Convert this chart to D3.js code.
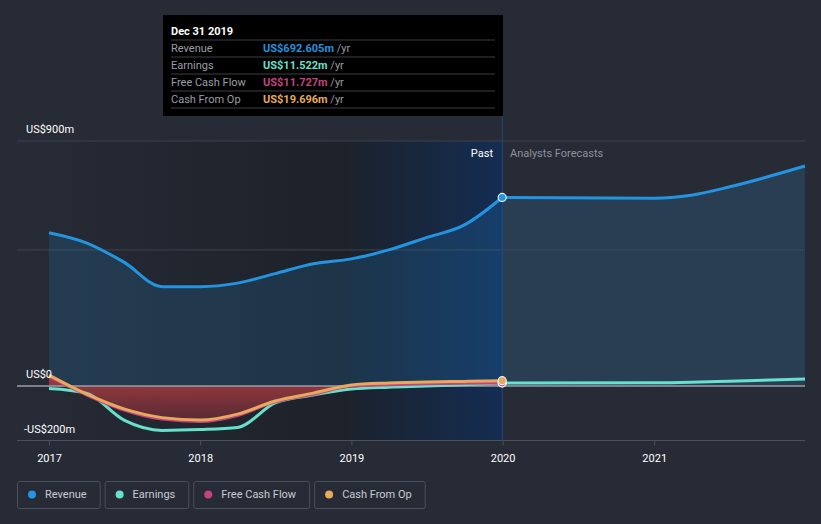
<!DOCTYPE html>
<html>
<head>
<meta charset="utf-8">
<script src="https://cdn.jsdelivr.net/npm/d3@7"></script>
<style>
  body { margin: 0; background: #262b36; }
  svg { display: block; font-family: Roboto, "Open Sans", sans-serif; }
</style>
</head>
<body>
<svg width="821" height="524"></svg>
<script>
'use strict';
// data, US$ millions
const pastDates = ['2017-01-01','2017-04-01','2017-07-01','2017-10-01','2018-01-01','2018-04-01',
  '2018-07-01','2018-10-01','2019-01-01','2019-04-01','2019-07-01','2019-10-01','2019-12-31'];
const revenue = [563, 526, 455, 365, 365, 378, 413, 449, 467, 500, 545, 592, 692.605];
const earnings = [-9, -26, -125, -163, -160, -152, -62, -33, -11, -4, 0, 5, 11.522];
const freeCashFlow = [35, -32, -88, -121, -130, -108, -58, -30, 0, 5, 8, 10, 11.727];
const cashFromOp = [40, -29, -84, -116, -125, -103, -55, -26, 4, 11, 15, 17, 19.696];

const fcDates = ['2019-12-31','2020-12-31','2021-03-31','2021-06-30','2021-12-31'];
const revenueFc = [692.605, 690, 701, 731, 808];
const earningsFc = [11.522, 12, 14, 18, 26];

const yearTicks = ['2017','2018','2019','2020','2021'];
const yTickLabels = [{v: 900, t: 'US$900m'}, {v: 0, t: 'US$0'}, {v: -200, t: '-US$200m'}];
const gridValues = [900, 500];

const legendItems = [
  {name: 'Revenue', color: '#2394df'},
  {name: 'Earnings', color: '#67e0cc'},
  {name: 'Free Cash Flow', color: '#c2437f'},
  {name: 'Cash From Op', color: '#e8a95b'}
];
const tipRows = [
  {label: 'Revenue', value: 'US$692.605m', color: '#2394df'},
  {label: 'Earnings', value: 'US$11.522m', color: '#67e0cc'},
  {label: 'Free Cash Flow', value: 'US$11.727m', color: '#c2437f'},
  {label: 'Cash From Op', value: 'US$19.696m', color: '#e8a95b'}
];

const svg = d3.select('svg');
const parse = d3.timeParse('%Y-%m-%d');
const left = 17, right = 805;

const x = d3.scaleTime()
  .domain([parse('2017-01-01'), parse('2021-12-31')])
  .range([49, 805]);
const y = d3.scaleLinear().domain([-200, 900]).range([440.5, 141]);

const past = pastDates.map(parse);
const fc = fcDates.map(parse);
const pastStart = parse('2019-01-01'), nowDate = parse('2019-12-31');

const defs = svg.append('defs');
const lg1 = defs.append('linearGradient').attr('id', 'pre').attr('x1', 0).attr('x2', 1);
lg1.append('stop').attr('offset', 0).attr('stop-color', '#262b36');
lg1.append('stop').attr('offset', 1).attr('stop-color', '#1d2129');
const lg2 = defs.append('linearGradient').attr('id', 'past').attr('x1', 0).attr('x2', 1);
lg2.append('stop').attr('offset', 0).attr('stop-color', '#1b222d');
lg2.append('stop').attr('offset', 1).attr('stop-color', '#142d52');
const lg3 = defs.append('linearGradient').attr('id', 'red').attr('x1', 0).attr('x2', 0).attr('y1', 0).attr('y2', 1);
lg3.append('stop').attr('offset', 0).attr('stop-color', '#a83c42');
lg3.append('stop').attr('offset', 1).attr('stop-color', '#5b2a33');

// background bands
svg.append('rect').attr('x', left).attr('y', y(900)).attr('width', x(pastStart) - left)
  .attr('height', y(-200) - y(900)).attr('fill', 'url(#pre)');
svg.append('rect').attr('x', x(pastStart)).attr('y', y(900)).attr('width', x(nowDate) - x(pastStart))
  .attr('height', y(-200) - y(900)).attr('fill', 'url(#past)');

// grid
svg.selectAll('.grid').data(gridValues).join('line')
  .attr('x1', left).attr('x2', right).attr('y1', d => y(d)).attr('y2', d => y(d))
  .attr('stroke', '#3d434f').attr('stroke-width', 1);
svg.append('line').attr('x1', left).attr('x2', right).attr('y1', y(-200)).attr('y2', y(-200))
  .attr('stroke', '#4a505c');

const curve = d3.curveMonotoneX;
const area = vals => d3.area().curve(curve).x((d, i) => x(d)).y0(y(0)).y1((d, i) => y(vals[i]));
const line = vals => d3.line().curve(curve).x(d => x(d)).y((d, i) => y(vals[i]));

// revenue areas
svg.append('path').attr('d', area(revenue)(past)).attr('fill', '#2394df').attr('opacity', 0.17);
svg.append('path').attr('d', area(revenueFc)(fc)).attr('fill', '#2e5678').attr('opacity', 0.45);
// free cash flow area
svg.append('path').attr('d', area(freeCashFlow)(past)).attr('fill', 'url(#red)').attr('opacity', 0.92);

// zero line
svg.append('line').attr('x1', left).attr('x2', right).attr('y1', y(0)).attr('y2', y(0))
  .attr('stroke', '#9a9ea6').attr('stroke-width', 1.5);

// now marker line
svg.append('line').attr('x1', x(nowDate)).attr('x2', x(nowDate)).attr('y1', 116).attr('y2', y(-200))
  .attr('stroke', '#1f4c80').attr('stroke-width', 1);

// lines
const drawLine = (vals, dates, color, w) => svg.append('path').attr('d', line(vals)(dates))
  .attr('fill', 'none').attr('stroke', color).attr('stroke-width', w);
drawLine(earningsFc, fc, '#67e0cc', 3);
drawLine(revenueFc, fc, '#2394df', 3);
drawLine(earnings, past, '#67e0cc', 3);
drawLine(freeCashFlow, past, '#c2437f', 3);
drawLine(cashFromOp, past, '#e8a95b', 3);
drawLine(revenue, past, '#2394df', 3);

// end markers
const last = arr => arr[arr.length - 1];
[[last(earnings), '#67e0cc'], [last(freeCashFlow), '#c2437f'], [last(cashFromOp), '#e8a95b'], [last(revenue), '#2394df']]
  .forEach(([v, c]) => svg.append('circle').attr('cx', x(nowDate)).attr('cy', y(v)).attr('r', 4)
    .attr('fill', c).attr('stroke', '#e8eef5').attr('stroke-width', 1.2));

// axes labels
svg.selectAll('.yl').data(yTickLabels).join('text')
  .attr('x', d => d.v < 0 ? 24 : 26).attr('y', d => y(d.v) - 8)
  .attr('fill', '#ffffff').attr('font-size', 11).text(d => d.t);

const xAxis = svg.append('g').attr('transform', `translate(0,${y(-200)})`)
  .call(d3.axisBottom(x).tickValues(yearTicks.map(d => parse(d + '-01-01'))).tickFormat(d3.timeFormat('%Y')).tickSize(5));
xAxis.select('.domain').remove();
xAxis.selectAll('line').attr('stroke', '#4a505c');
xAxis.selectAll('text').attr('fill', '#ffffff').attr('font-size', 11).attr('dy', '1.25em')
  .attr('font-family', 'Roboto, sans-serif');

svg.append('text').attr('x', 493).attr('y', 157).attr('text-anchor', 'end')
  .attr('fill', '#ffffff').attr('font-size', 11).text('Past');
svg.append('text').attr('x', 510).attr('y', 157)
  .attr('fill', '#8d929b').attr('font-size', 11).text('Analysts Forecasts');

// tooltip
const tip = svg.append('g');
tip.append('rect').attr('x', 163).attr('y', 15).attr('width', 340).attr('height', 101).attr('fill', '#000');
tip.append('text').attr('x', 171).attr('y', 35).attr('fill', '#fff').attr('font-size', 11)
  .attr('font-weight', 'bold').text('Dec 31 2019');
tipRows.forEach((r, i) => {
  const ty = 40 + i * 17;
  tip.append('line').attr('x1', 171).attr('x2', 495).attr('y1', ty).attr('y2', ty).attr('stroke', '#3f3f3f');
  tip.append('text').attr('x', 171).attr('y', ty + 12).attr('fill', '#9a9ea6').attr('font-size', 11).text(r.label);
  const t = tip.append('text').attr('x', 263).attr('y', ty + 12).attr('font-size', 11);
  t.append('tspan').attr('fill', r.color).attr('font-weight', 'bold').text(r.value);
  t.append('tspan').attr('fill', '#9a9ea6').text(' /yr');
});
tip.append('line').attr('x1', 171).attr('x2', 495).attr('y1', 108).attr('y2', 108).attr('stroke', '#3f3f3f');

// legend
let lx = 17;
legendItems.forEach(it => {
  const g = svg.append('g');
  const txt = g.append('text').attr('x', lx + 28).attr('y', 498).attr('fill', '#c8ccd3')
    .attr('font-size', 11).text(it.name);
  const w = txt.node().getComputedTextLength() + 41;
  g.insert('rect', 'text').attr('x', lx + 0.5).attr('y', 481.5).attr('width', w).attr('height', 27)
    .attr('rx', 2).attr('fill', 'none').attr('stroke', '#4a505c');
  g.append('circle').attr('cx', lx + 15).attr('cy', 494.5).attr('r', 4).attr('fill', it.color);
  lx += w + 5;
});
</script>
</body>
</html>
